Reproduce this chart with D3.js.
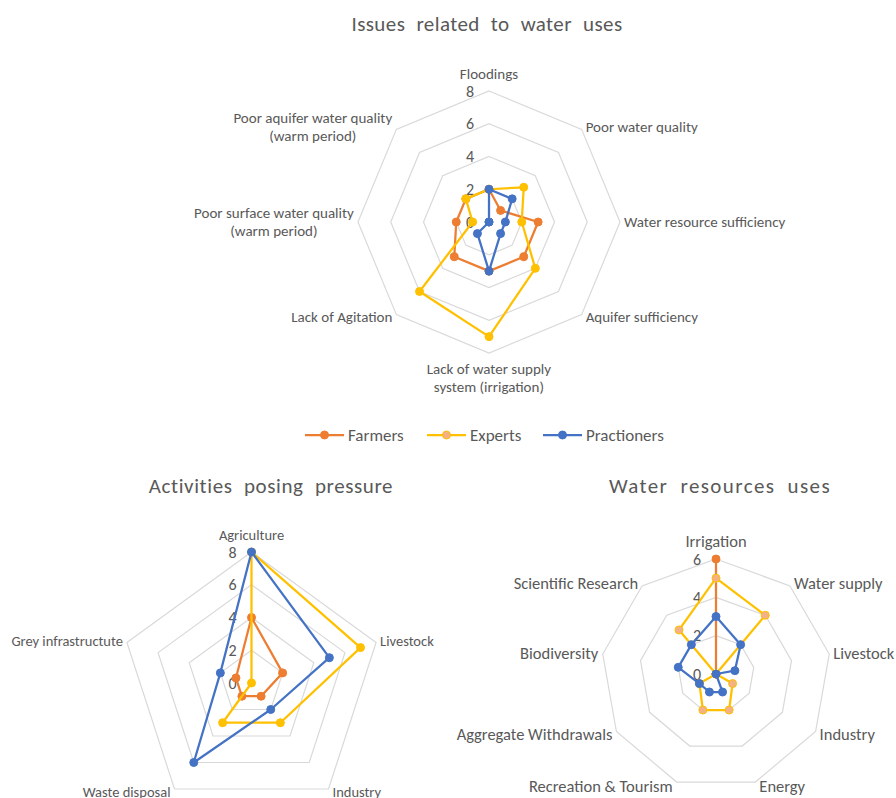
<!DOCTYPE html>
<html>
<head>
<meta charset="utf-8">
<script src="https://cdn.jsdelivr.net/npm/d3@7"></script>
<style>
body { margin: 0; background: #fff; }
text { font-family: Carlito, Lato, "Open Sans", sans-serif; fill: #595959; }
</style>
</head>
<body>
<div id="my_chart"></div>
<script>
const width = 896, height = 798;

const seriesNames = ["Farmers", "Experts", "Practioners"];
const seriesColors = ["#ED7D31", "#FFC000", "#4472C4"];

// issues related to water uses
const issuesAxes = ["Floodings", "Poor water quality", "Water resource sufficiency", "Aquifer sufficiency",
  "Lack of water supply\nsystem (irrigation)", "Lack of Agitation",
  "Poor surface water quality\n(warm period)", "Poor aquifer water quality\n(warm period)"];
const issuesFarmers = [2, 1, 3, 3, 3, 3, 2, 2];
const issuesExperts = [2, 3, 2, 4, 7, 6, 1, 2];
const issuesPract = [2, 2, 1, 1, 3, 1, 0, 0];
const issuesTicks = [0, 2, 4, 6, 8];

// activities posing pressure
const pressureAxes = ["Agriculture", "Livestock", "Industry", "Waste disposal", "Grey infrastructute"];
const pressureFarmers = [4, 2, 1, 1, 1];
const pressureExperts = [8, 7, 3, 3, 0];
const pressurePract = [8, 5, 2, 6, 2];
const pressureTicks = [0, 2, 4, 6, 8];

// water resources uses
const usesAxes = ["Irrigation", "Water supply", "Livestock", "Industry", "Energy",
  "Recreation & Tourism", "Aggregate Withdrawals", "Biodiversity", "Scientific Research"];
const usesFarmers = [6, 0, 0, 0, 0, 0, 0, 0, 0];
const usesExperts = [5, 4, 0, 1, 2, 2, 1, 0, 3];
const usesPract = [3, 2, 1, 0, 1, 1, 1, 2, 2];
const usesTicks = [0, 2, 4, 6];

const svg = d3.select("#my_chart")
  .append("svg")
  .attr("width", width)
  .attr("height", height);

svg.append("rect").attr("width", width).attr("height", height).attr("fill", "white");

function radar(o) {
  const n = o.axes.length;
  const r = d3.scaleLinear().domain([0, d3.max(o.ticks)]).range([0, o.radius]);
  const ang = d3.scaleLinear().domain([0, n]).range([0, 2 * Math.PI]);

  svg.append("text")
    .attr("x", o.title[1]).attr("y", o.title[2])
    .attr("text-anchor", "middle")
    .attr("dominant-baseline", "middle")
    .attr("font-size", 21)
    .attr("letter-spacing", o.title[3] + "px")
    .attr("word-spacing", "6px")
    .text(o.title[0]);

  const g = svg.append("g").attr("transform", `translate(${o.cx},${o.cy})`);

  // grid rings
  const ring = d3.lineRadial().angle((d, i) => ang(i)).radius(d => r(d)).curve(d3.curveLinearClosed);
  g.append("g").selectAll("path")
    .data(o.ticks.filter(t => t > 0))
    .enter().append("path")
    .attr("d", t => ring(d3.range(n).map(() => t)))
    .attr("fill", "none")
    .attr("stroke", "#d9d9d9")
    .attr("stroke-width", 1.2);

  // tick labels along the first axis
  g.append("g").selectAll("text")
    .data(o.ticks)
    .enter().append("text")
    .attr("x", -15)
    .attr("y", t => -r(t))
    .attr("dy", "0.35em")
    .attr("text-anchor", "end")
    .attr("font-size", 16)
    .text(t => t);

  // series
  o.series.forEach((vals, k) => {
    g.append("path")
      .attr("d", ring(vals))
      .attr("fill", "none")
      .attr("stroke", seriesColors[k])
      .attr("stroke-width", 2.25)
      .attr("stroke-linejoin", "round");
    g.append("g").selectAll("circle")
      .data(vals)
      .enter().append("circle")
      .attr("cx", (d, i) => d3.pointRadial(ang(i), r(d))[0])
      .attr("cy", (d, i) => d3.pointRadial(ang(i), r(d))[1])
      .attr("r", 4)
      .attr("fill", k == 1 ? o.expertFill : seriesColors[k])
      .attr("stroke", seriesColors[k])
      .attr("stroke-width", 1);
  });

  // category labels, placed beside the outer ring
  g.append("g").selectAll("text")
    .data(o.axes)
    .enter().append("text")
    .attr("text-anchor", "middle")
    .attr("font-size", o.labelSize)
    .each(function(d, i) {
      const t = d3.select(this);
      d.split("\n").forEach((l, j) => t.append("tspan").attr("x", 0).attr("dy", j ? "1.2em" : 0).text(l));
      const bb = this.getBBox();
      const a = ang(i), s = Math.sin(a), c = Math.cos(a);
      const [vx, vy] = d3.pointRadial(a, o.radius);
      let x, y;
      if (Math.abs(s) < 0.1) {
        x = vx;
        y = c > 0 ? vy - 8 - bb.height / 2 : vy + 7 + bb.height / 2;
      } else {
        x = s > 0 ? vx + 4 + bb.width / 2 : vx - 4 - bb.width / 2;
        y = vy - 4 * c;
      }
      t.attr("transform", `translate(${x - (bb.x + bb.width / 2)},${y - (bb.y + bb.height / 2)})`);
    });
}

radar({
  title: ["Issues related to water uses", 487, 26, 0.4],
  cx: 489, cy: 222, radius: 131, labelSize: 15,
  axes: issuesAxes, ticks: issuesTicks,
  series: [issuesFarmers, issuesExperts, issuesPract],
  expertFill: "#FFC000"
});

radar({
  title: ["Activities posing pressure", 271, 488, 0.6],
  cx: 251.5, cy: 683, radius: 131, labelSize: 14.5,
  axes: pressureAxes, ticks: pressureTicks,
  series: [pressureFarmers, pressureExperts, pressurePract],
  expertFill: "#FFC000"
});

radar({
  title: ["Water resources uses", 720, 488, 1.4],
  cx: 716, cy: 674, radius: 115, labelSize: 16.5,
  axes: usesAxes, ticks: usesTicks,
  series: [usesFarmers, usesExperts, usesPract],
  expertFill: "#F4B183"
});

// legend
const legendX = [305, 427, 543];
const leg = svg.append("g").selectAll("g")
  .data(seriesNames)
  .enter().append("g")
  .attr("transform", (d, i) => `translate(${legendX[i]},435)`);
leg.append("line")
  .attr("x1", 0).attr("x2", 39)
  .attr("stroke", (d, i) => seriesColors[i])
  .attr("stroke-width", 2.25);
leg.append("circle")
  .attr("cx", 19.5).attr("r", 4)
  .attr("fill", (d, i) => i == 1 ? "#F4B183" : seriesColors[i])
  .attr("stroke", (d, i) => seriesColors[i]);
leg.append("text")
  .attr("x", 43)
  .attr("dy", "0.35em")
  .attr("font-size", 17)
  .text(d => d);
</script>
</body>
</html>
